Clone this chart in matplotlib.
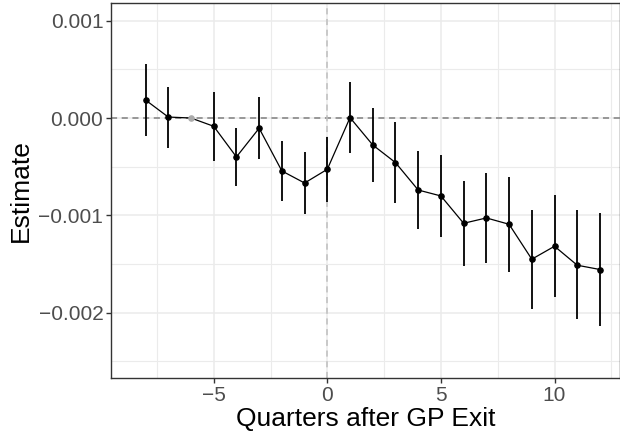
import numpy as np
import matplotlib
matplotlib.use("Agg")
import matplotlib.pyplot as plt
from matplotlib.ticker import MultipleLocator, FixedLocator

# event-time estimates (quarters relative to GP exit); -6 is the reference period
quarters = [-8, -7, -6, -5, -4, -3, -2, -1, 0, 1, 2, 3, 4, 5, 6, 7, 8, 9, 10, 11, 12]
estimate = [0.185, 0.010, 0.0, -0.085, -0.400, -0.105, -0.544, -0.668, -0.527, 0.004,
            -0.277, -0.458, -0.740, -0.801, -1.082, -1.027, -1.092, -1.451, -1.318,
            -1.513, -1.557]
ci_low = [-0.185, -0.304, 0.0, -0.438, -0.699, -0.421, -0.853, -0.982, -0.863, -0.356,
          -0.657, -0.869, -1.143, -1.222, -1.526, -1.489, -1.582, -1.958, -1.844,
          -2.069, -2.140]
ci_high = [0.552, 0.322, 0.0, 0.264, -0.105, 0.213, -0.239, -0.349, -0.191, 0.367,
           0.103, -0.044, -0.335, -0.380, -0.643, -0.561, -0.606, -0.948, -0.794,
           -0.949, -0.974]
ref_q = -6

q = np.array(quarters)
est = np.array(estimate) * 1e-3
lo = np.array(ci_low) * 1e-3
hi = np.array(ci_high) * 1e-3

plt.rcParams['font.family'] = ['Liberation Sans', 'DejaVu Sans']

fig = plt.figure(figsize=(6.2, 4.32), dpi=100)
ax = fig.add_axes([111/620, (432-378)/432, (619.5-111)/620, (378-3.3)/432])

# grid like theme_bw
ax.set_axisbelow(True)
ax.xaxis.set_major_locator(FixedLocator([-5, 0, 5, 10]))
ax.xaxis.set_minor_locator(FixedLocator([-7.5, -2.5, 2.5, 7.5, 12.5]))
ax.yaxis.set_major_locator(FixedLocator([-0.002, -0.001, 0.0, 0.001]))
ax.yaxis.set_minor_locator(FixedLocator([-0.0025, -0.0015, -0.0005, 0.0005]))
ax.grid(True, which='major', color='#EBEBEB', linewidth=1.1)
ax.grid(True, which='minor', color='#EBEBEB', linewidth=0.8)

ax.axhline(0, color='#7F7F7F', linestyle=(0, (4, 3)), linewidth=1.1, zorder=1)
ax.axvline(0, color='#BEBEBE', linestyle=(0, (4, 3)), linewidth=1.1, zorder=1)

mask = q != ref_q
ax.vlines(q[mask], lo[mask], hi[mask], color='black', linewidth=1.3, zorder=2)
ax.plot(q, est, color='black', linewidth=0.9, zorder=3)
ax.scatter(q[mask], est[mask], s=14, color='black', zorder=4)
ax.scatter(q[~mask], est[~mask], s=14, color='#AAAAAA', zorder=4)

ax.set_xlim(-9.52, 12.86)
ax.set_ylim(-0.002672, 0.001179)

ax.set_yticklabels(['\u22120.002', '\u22120.001', '0.000', '0.001'])
ax.set_xticklabels(['\u22125', '0', '5', '10'])

for s in ax.spines.values():
    s.set_color('#333333')
    s.set_linewidth(1.0)
ax.tick_params(which='major', length=3.5, width=1.0, color='#333333',
               labelsize=15, labelcolor='#4D4D4D', pad=2)
ax.tick_params(which='minor', length=0)

ax.set_xlabel('Quarters after GP Exit', fontsize=19, labelpad=2)
ax.set_ylabel('Estimate', fontsize=19, labelpad=4)

fig.savefig('out.png', dpi=100)
